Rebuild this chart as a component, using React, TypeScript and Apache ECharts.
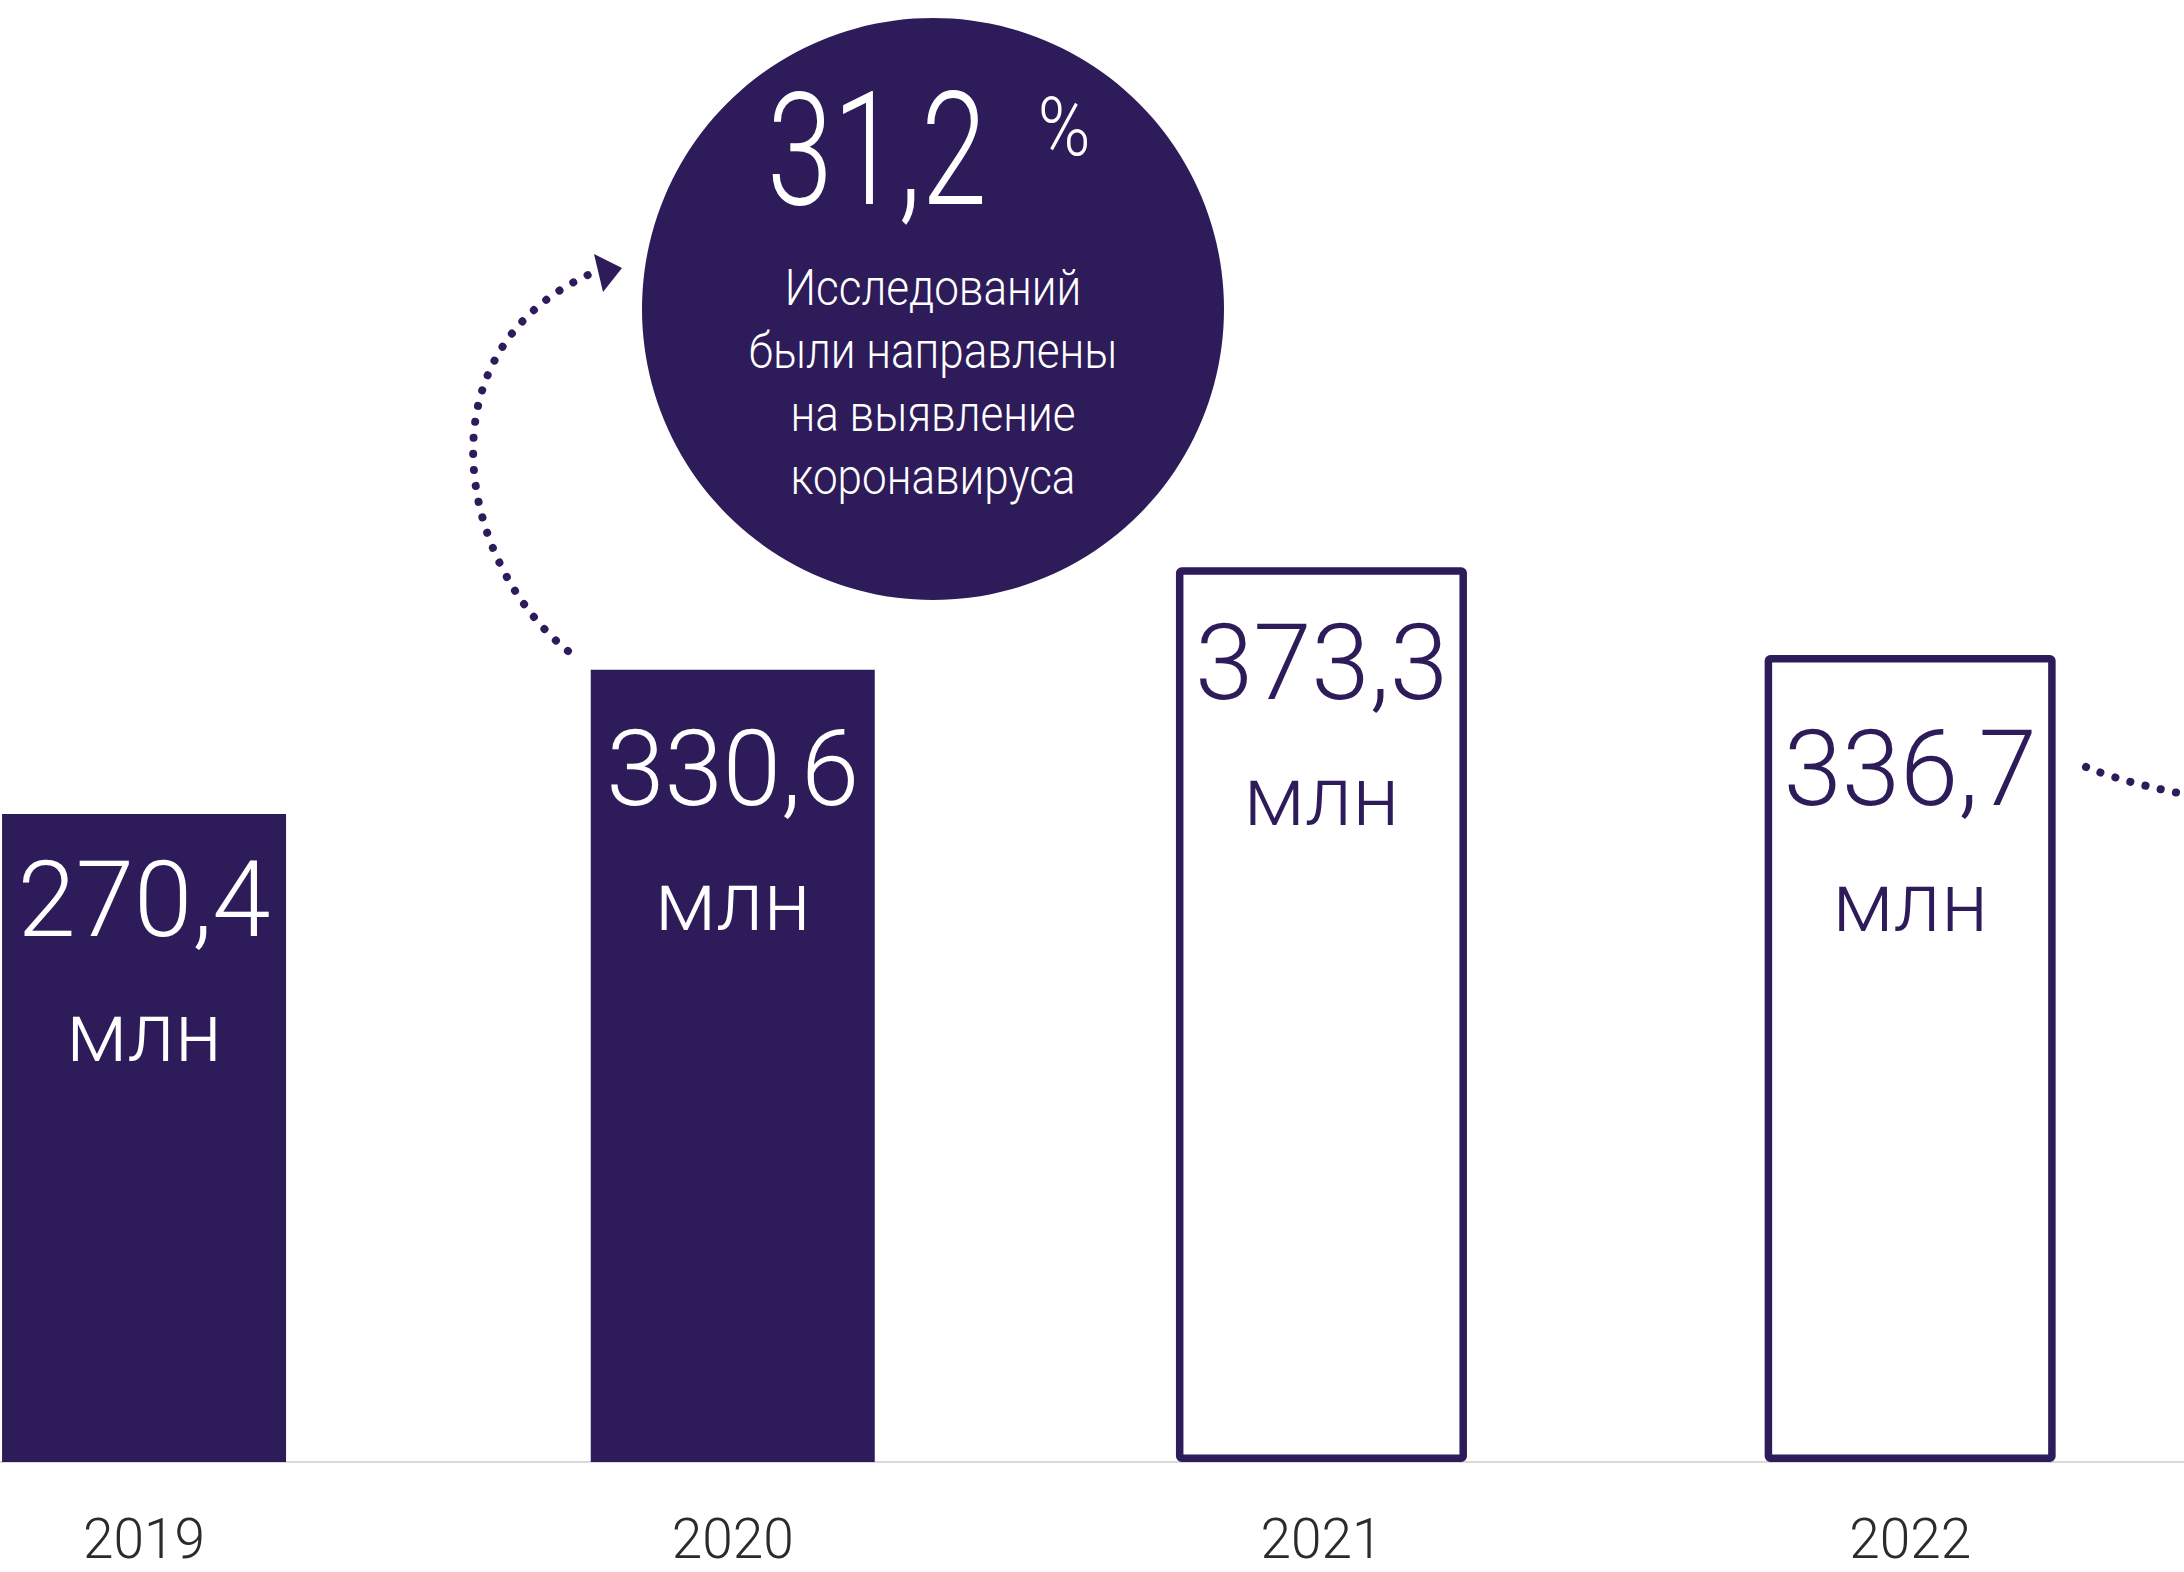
import React, { useEffect, useRef } from "react";
import * as echarts from "echarts";

// ---- data ----
const categories = ["2019", "2020", "2021", "2022"];
const values = [270.4, 330.6, 373.3, 336.7];
const unitLabel = "млн";
const filledBars = [true, true, false, false];
const highlightValue = "31,2";
const highlightUnit = "%";
const highlightLines = ["Исследований", "были направлены", "на выявление", "коронавируса"];

// ---- styles ----
const PURPLE = "#2d1b5a";
const FONT = "Roboto, 'Open Sans', sans-serif";
const labelDistances = [17, 30, 27, 45];

const fmt = (v: number) => v.toFixed(1).replace(".", ",");

export default function App() {
  const ref = useRef<HTMLDivElement>(null);
  useEffect(() => {
    if (!ref.current) return;
    const chart = echarts.init(ref.current, null, { renderer: "svg" });

    const makeItem = (v: number, i: number) => {
      const filled = filledBars[i];
      const color = filled ? "#ffffff" : PURPLE;
      return {
        value: v,
        itemStyle: filled
          ? { color: PURPLE }
          : { color: "#ffffff", borderColor: PURPLE, borderWidth: 7.5, borderRadius: 2 },
        label: {
          show: true,
          position: "insideTop",
          distance: labelDistances[i],
          formatter: `{a|${fmt(v)}}\n{b|${unitLabel}}`,
          rich: {
            a: { fontSize: 105, fontWeight: 300, lineHeight: 139, color, fontFamily: FONT },
            b: { fontSize: 84, fontWeight: 300, lineHeight: 126, color, fontFamily: FONT },
          },
        },
      };
    };
    const filledData = values.map((v, i) => (filledBars[i] ? makeItem(v, i) : "-"));
    const outlineData = values.map((v, i) => (!filledBars[i] ? makeItem(v, i) : "-"));

    const centered = {
      align: "center",
      verticalAlign: "middle",
      textAlign: "center",
      textVerticalAlign: "middle",
    };

    chart.setOption({
      animation: false,
      backgroundColor: "#ffffff",
      grid: {
        left: -150.3,
        right: -20.5,
        top: 24,
        bottom: 110,
        containLabel: false,
        outerBoundsMode: "none",
      },
      xAxis: [
        {
          type: "category",
          data: categories,
          axisLine: { show: true, lineStyle: { color: "#d9d9d9", width: 2 } },
          axisTick: { show: false },
          axisLabel: {
            fontSize: 55,
            lineHeight: 56,
            fontWeight: 300,
            color: "#2b2b2b",
            margin: 49,
            fontFamily: FONT,
          },
          z: 1,
        },
        {
          type: "category",
          data: categories,
          show: false,
          position: "bottom",
        },
      ],
      yAxis: {
        type: "value",
        min: 0,
        max: 600,
        show: false,
        splitLine: { show: false },
      },
      series: [
        {
          type: "bar",
          xAxisIndex: 0,
          data: filledData,
          barWidth: 284,
          z: 3,
        },
        {
          type: "bar",
          xAxisIndex: 1,
          data: outlineData,
          barWidth: 291,
          z: 3,
        },
      ],
      graphic: [
        {
          type: "circle",
          shape: { cx: 933, cy: 309, r: 291 },
          style: { fill: PURPLE },
          z: 10,
        },
        {
          type: "text",
          z: 11,
          x: 877,
          y: 150,
          scaleX: 0.75,
          style: {
            text: highlightValue,
            x: 0,
            y: 0,
            fill: "#ffffff",
            fontSize: 158,
            fontWeight: 300,
            fontFamily: FONT,
            ...centered,
          },
        },
        {
          type: "text",
          z: 11,
          x: 1064,
          y: 127,
          scaleX: 0.87,
          style: {
            text: highlightUnit,
            x: 0,
            y: 0,
            fill: "#ffffff",
            fontSize: 82,
            fontWeight: 300,
            fontFamily: FONT,
            ...centered,
          },
        },
        {
          type: "text",
          z: 11,
          x: 933,
          y: 382,
          scaleX: 0.88,
          style: {
            text: highlightLines.join("\n"),
            x: 0,
            y: 0,
            fill: "#ffffff",
            fontSize: 50,
            fontWeight: 300,
            lineHeight: 63,
            fontFamily: FONT,
            ...centered,
          },
        },
        {
          type: "bezierCurve",
          z: 10,
          shape: { x1: 568, y1: 651, cpx1: 458, cpy1: 562, cpx2: 418, cpy2: 352, x2: 590, y2: 274 },
          style: { stroke: PURPLE, lineWidth: 8, lineCap: "round", lineDash: [0.1, 16], fill: null },
        },
        {
          type: "polygon",
          z: 10,
          shape: { points: [[594, 254], [622, 268], [603, 292]] },
          style: { fill: PURPLE },
        },
        {
          type: "bezierCurve",
          z: 10,
          shape: { x1: 2086, y1: 767, cpx1: 2120, cpy1: 781, cpx2: 2160, cpy2: 790, x2: 2215, y2: 800 },
          style: { stroke: PURPLE, lineWidth: 8, lineCap: "round", lineDash: [0.1, 15.5], fill: null },
        },
      ],
    });
    return () => chart.dispose();
  }, []);

  return (
    <div
      ref={ref}
      style={{ position: "fixed", left: 0, top: 0, width: 2184, height: 1572, background: "#fff" }}
    />
  );
}
